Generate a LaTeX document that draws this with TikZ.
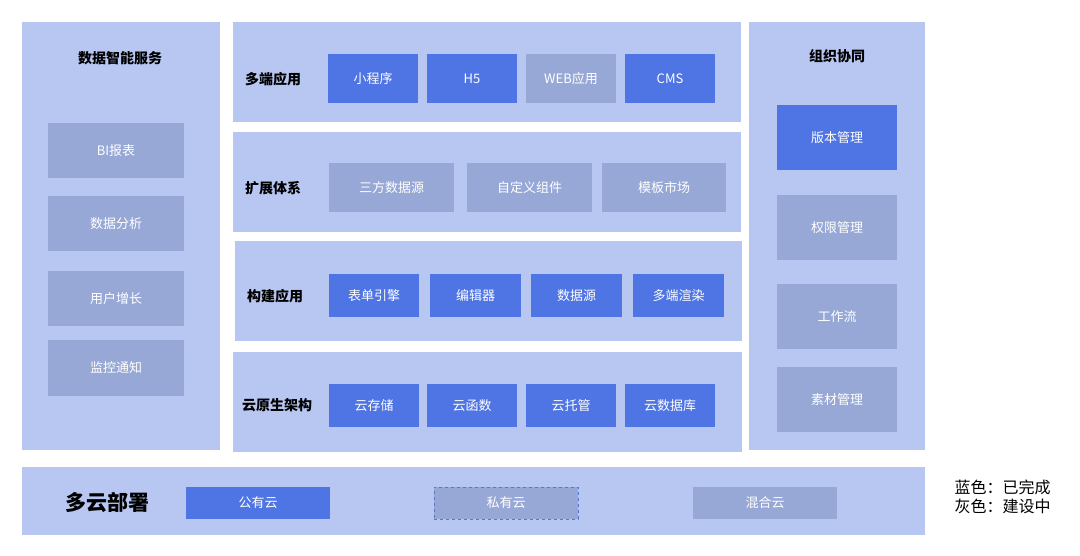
\documentclass[tikz,border=0pt]{standalone}
\usepackage{fontspec}
\setmainfont{Noto Sans CJK SC}
\definecolor{panel}{HTML}{B8C6F2}
\definecolor{blu}{HTML}{4F74E3}
\definecolor{gry}{HTML}{97A8D6}
\begin{document}
\begin{tikzpicture}[x=1pt,y=-1pt,
  pnl/.style={fill=panel,draw=none},
  bbox/.style={fill=blu,draw=none,text=white,font=\fontsize{13}{15}\selectfont},
  gbox/.style={fill=gry,draw=none,text=white,font=\fontsize{13}{15}\selectfont},
  ttl/.style={font=\fontsize{14}{16}\selectfont\bfseries,text=black}]
\useasboundingbox[fill=white] (0,0) rectangle (1080,556);
\newcommand{\bx}[6]{\node[#1,minimum width=#4-#2,minimum height=#5-#3,inner sep=0pt] (#6) at ({(#2+#4)/2},{(#3+#5)/2}) {};}
% panels
\fill[panel] (22,22) rectangle (220,450);
\fill[panel] (233,22) rectangle (741,122);
\fill[panel] (233,132) rectangle (741,232);
\fill[panel] (235,241) rectangle (742,341);
\fill[panel] (233,352) rectangle (742,452);
\fill[panel] (749,22) rectangle (925,450);
\fill[panel] (22,467) rectangle (925,535);
% left
\node[ttl] (lt) at (120,58) {数据智能服务};
\node[gbox,minimum width=136,minimum height=55] (l1) at (116,150.5) {BI报表};
\node[gbox,minimum width=136,minimum height=55] (l2) at (116,223.5) {数据分析};
\node[gbox,minimum width=136,minimum height=55] (l3) at (116,298.5) {用户增长};
\node[gbox,minimum width=136,minimum height=55] (l4) at (116,368) {监控通知};
% row1
\node[ttl] (r1) at (273,79) {多端应用};
\node[bbox,minimum width=90,minimum height=49] (a1) at (373,78.5) {小程序};
\node[bbox,minimum width=90,minimum height=49] (a2) at (472,78.5) {H5};
\node[gbox,minimum width=90,minimum height=49] (a3) at (571,78.5) {WEB应用};
\node[bbox,minimum width=90,minimum height=49] (a4) at (670,78.5) {CMS};
% row2
\node[ttl] (r2) at (273,188) {扩展体系};
\node[gbox,minimum width=125,minimum height=49] (b1) at (391.5,187.5) {三方数据源};
\node[gbox,minimum width=125,minimum height=49] (b2) at (529.5,187.5) {自定义组件};
\node[gbox,minimum width=124,minimum height=49] (b3) at (664,187.5) {模板市场};
% row3
\node[ttl] (r3) at (275,296) {构建应用};
\node[bbox,minimum width=90,minimum height=43] (c1) at (374,295.5) {表单引擎};
\node[bbox,minimum width=91,minimum height=43] (c2) at (475.5,295.5) {编辑器};
\node[bbox,minimum width=91,minimum height=43] (c3) at (576.5,295.5) {数据源};
\node[bbox,minimum width=91,minimum height=43] (c4) at (678.5,295.5) {多端渲染};
% row4
\node[ttl] (r4) at (277,405) {云原生架构};
\node[bbox,minimum width=90,minimum height=43] (d1) at (374,405.5) {云存储};
\node[bbox,minimum width=90,minimum height=43] (d2) at (472,405.5) {云函数};
\node[bbox,minimum width=90,minimum height=43] (d3) at (571,405.5) {云托管};
\node[bbox,minimum width=90,minimum height=43] (d4) at (670,405.5) {云数据库};
% right
\node[ttl] (rt) at (837,56) {组织协同};
\node[bbox,minimum width=120,minimum height=65] (e1) at (837,137.5) {版本管理};
\node[gbox,minimum width=120,minimum height=65] (e2) at (837,227.5) {权限管理};
\node[gbox,minimum width=120,minimum height=65] (e3) at (837,316.5) {工作流};
\node[gbox,minimum width=120,minimum height=65] (e4) at (837,399.5) {素材管理};
% bottom
\node[font=\fontsize{21}{24}\selectfont\bfseries] (bt) at (107,503) {多云部署};
\node[bbox,minimum width=144,minimum height=32] (f1) at (258,503) {公有云};
\node[gbox,minimum width=144,minimum height=32,draw=blu!80!gray,dashed,line width=0.6pt] (f2) at (506,503) {私有云};
\node[gbox,minimum width=144,minimum height=32] (f3) at (765,503) {混合云};
% legend
\node[font=\fontsize{16}{19}\selectfont,anchor=west,align=left] (lg) at (951,497) {蓝色：已完成\\灰色：建设中};
\end{tikzpicture}
\end{document}
